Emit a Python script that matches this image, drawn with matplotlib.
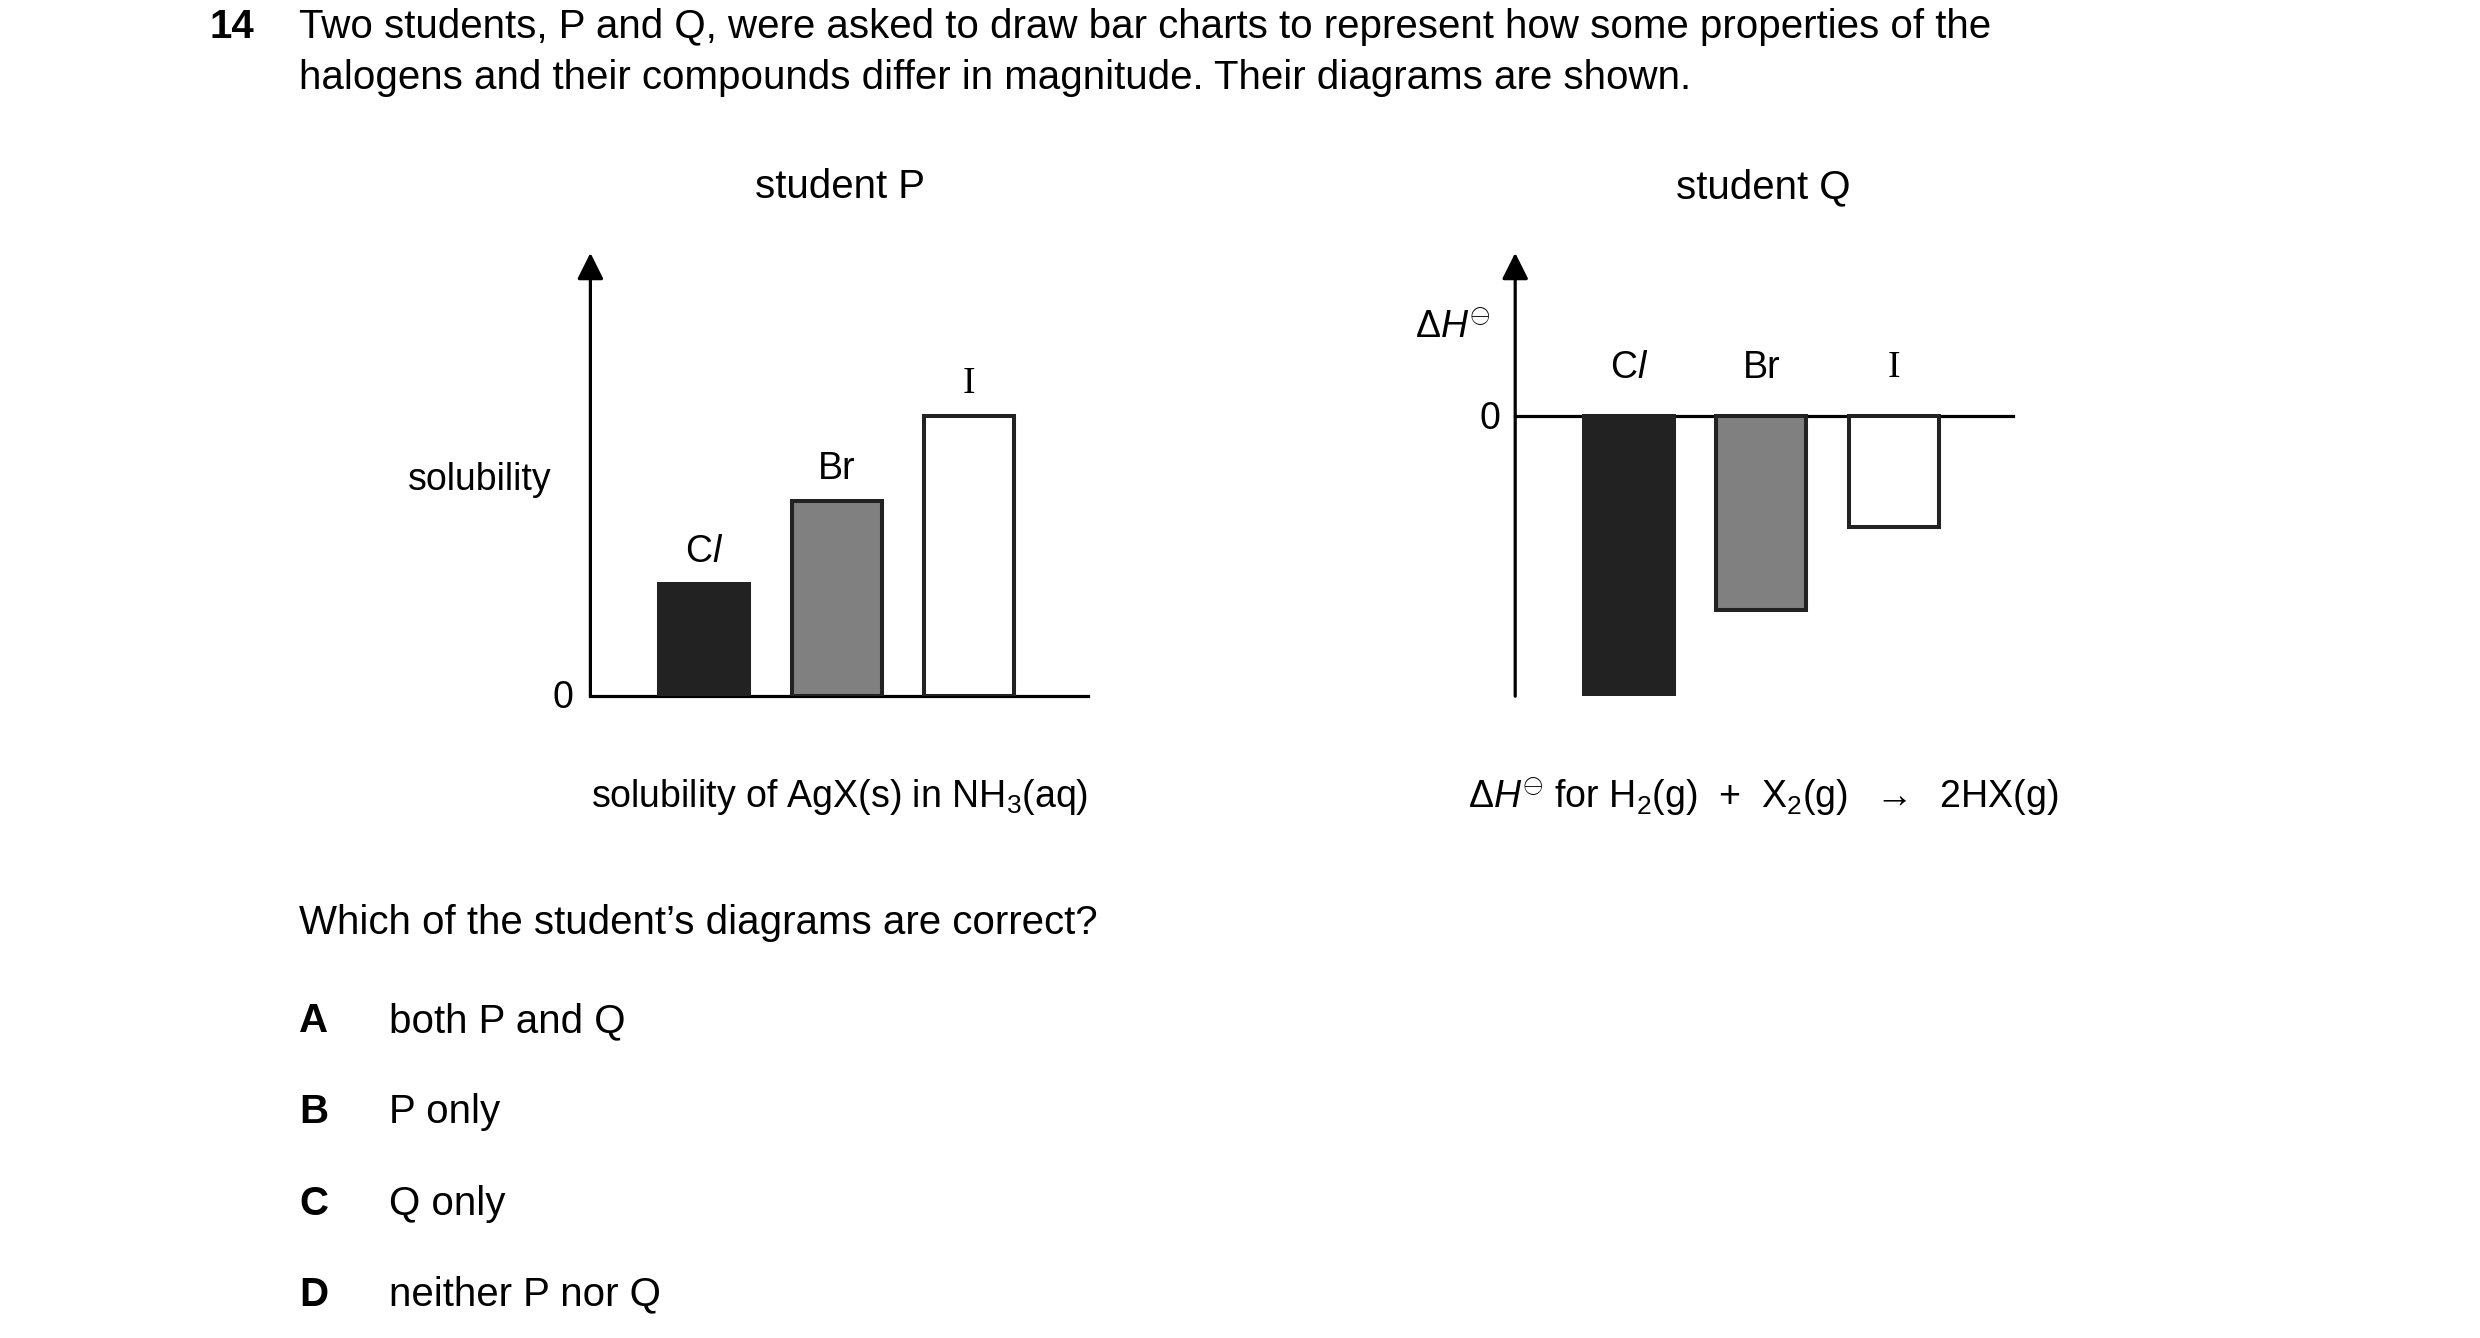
import matplotlib
matplotlib.use("Agg")
import matplotlib.pyplot as plt

plt.rcParams['font.family'] = ['Liberation Sans', 'DejaVu Sans']
plt.rcParams['mathtext.fontset'] = 'custom'
plt.rcParams['mathtext.rm'] = 'Liberation Sans'
plt.rcParams['mathtext.it'] = 'Liberation Sans:italic'

halogens = ['Cl', 'Br', 'I']
labels = [r'C$\mathit{l}$', 'Br', 'I']
solubility = [0.70, 1.22, 1.75]
enthalpy = [-1.75, -1.21, -0.69]
colors = ['#222222', '#808080', '#ffffff']
options = [('A', 'both P and Q'), ('B', 'P only'), ('C', 'Q only'), ('D', 'neither P nor Q')]

W, H = 1550, 836
fig = plt.figure(figsize=(24.8, 13.38), dpi=100)
FS = 29

def fx(x): return x / W
def fy(y): return 1 - y / H

def txt(x, y, s, **kw):
    kw.setdefault('fontsize', FS)
    kw.setdefault('va', 'center')
    fig.text(fx(x), fy(y), s, **kw)

txt(131, 17, '14', fontweight='bold')
txt(187, 17, 'Two students, P and Q, were asked to draw bar charts to represent how some properties of the')
txt(187, 49, 'halogens and their compounds differ in magnitude. Their diagrams are shown.')
txt(525, 117, 'student P', ha='center')
txt(1102, 117, 'student Q', ha='center')

xs = [0, 1, 2]
LW = 2.9

def make_axes(x0):
    ax = fig.add_axes([fx(x0), fy(435), fx(311), 277 / H])
    for s in ax.spines.values():
        s.set_visible(False)
    ax.set_xticks([]); ax.set_yticks([])
    ax.set_xlim(-0.86, 2.9)
    ax.annotate('', xy=(0, 1), xytext=(0, 0), xycoords='axes fraction',
                arrowprops=dict(arrowstyle='-|>', color='k', lw=2.3, mutation_scale=40,
                                shrinkA=0, shrinkB=0), annotation_clip=False)
    return ax

# student P
axp = make_axes(369)
axp.set_ylim(0, 2.77)
axp.bar(xs, solubility, width=0.68, color=colors, edgecolor='#222222', linewidth=LW, zorder=3)
axp.axhline(0, 0, 1, color='k', lw=2.3, clip_on=False)
for x, v, l, h in zip(xs, solubility, labels, halogens):
    fam = ['Liberation Serif'] if h == 'I' else None
    axp.text(x, v + 0.2, l, ha='center', va='center', fontsize=27,
             **({'family': fam} if fam else {}))
txt(300, 300, 'solubility', ha='center', fontsize=27)
txt(352, 436, '0', ha='center', fontsize=27)
txt(525, 498, r'solubility of AgX(s) in NH$_3$(aq)', ha='center', fontsize=27)

# student Q
axq = make_axes(947)
axq.set_ylim(-1.75, 1.02)
axq.bar(xs, enthalpy, width=0.68, color=colors, edgecolor='#222222', linewidth=LW, zorder=3)
axq.axhline(0, 0, 1, color='k', lw=2.3, clip_on=False)
for x, l, h in zip(xs, labels, halogens):
    fam = ['Liberation Serif'] if h == 'I' else None
    axq.text(x, 0.3, l, ha='center', va='center', fontsize=27,
             **({'family': fam} if fam else {}))
txt(908, 205, r'$\Delta \mathit{H}^{\ominus}$', ha='center', fontsize=27)
txt(931, 262, '0', ha='center', fontsize=27)
txt(1102, 498, r'$\Delta \mathit{H}^{\ominus}$ for H$_2$(g)  +  X$_2$(g)  $\rightarrow$  2HX(g)',
    ha='center', fontsize=27)

txt(187, 577, 'Which of the student’s diagrams are correct?')
for i, (letter, t) in enumerate(options):
    y = 638 + i * 57
    txt(187, y, letter, fontweight='bold')
    txt(243, y, t)

fig.savefig('out.png', dpi=100, facecolor='white')
